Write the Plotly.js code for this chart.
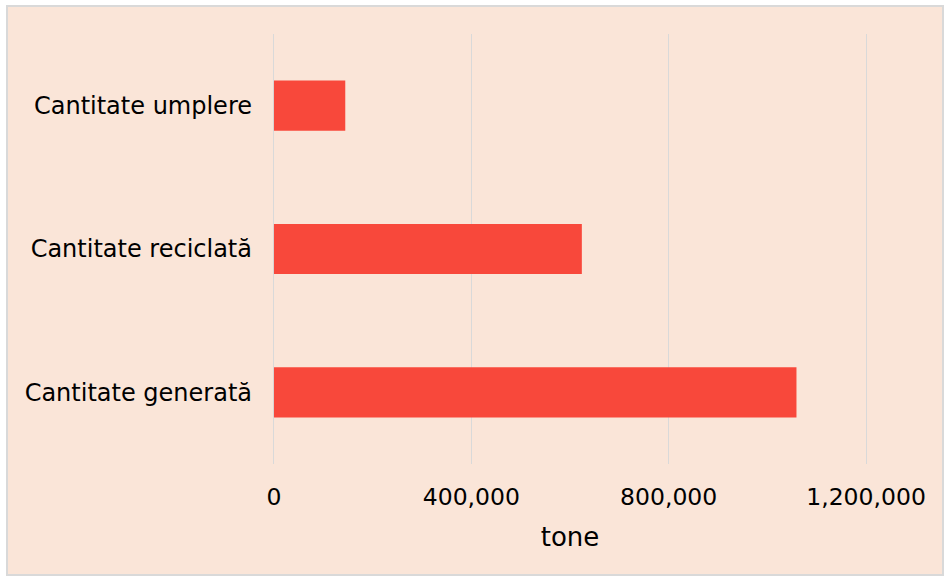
<!DOCTYPE html>
<html>
<head>
<meta charset="utf-8">
<script src="https://cdn.plot.ly/plotly-3.0.1.min.js"></script>
<style>html,body{margin:0;padding:0;background:#fff;}#chart{width:947px;height:578px;}</style>
</head>
<body>
<div id="chart"></div>
<script>
const categories = ["Cantitate generată", "Cantitate reciclată", "Cantitate umplere"];
const values = [1059000, 624000, 144500];
const xTickVals = [0, 400000, 800000, 1200000];
const xTickText = ["0", "400,000", "800,000", "1,200,000"];
const xTitle = "tone";

const W = 947, H = 578;
const m = {l: 271, r: 78, t: 34, b: 114};
const pw = W - m.l - m.r, ph = H - m.t - m.b;
const px = x => (x - m.l) / pw;
const py = y => (H - y - m.b) / ph;

const font = "DejaVu Sans, Verdana, sans-serif";

Plotly.newPlot("chart", [{
  type: "bar",
  orientation: "h",
  y: categories,
  x: values,
  marker: {color: "#F8483B"},
  hoverinfo: "x+y"
}], {
  width: W, height: H,
  margin: m,
  paper_bgcolor: "#ffffff",
  plot_bgcolor: "rgba(0,0,0,0)",
  bargap: 0.65,
  showlegend: false,
  font: {family: font, size: 24, color: "#000000"},
  xaxis: {
    range: [-6000, 1206000],
    tickvals: xTickVals,
    ticktext: xTickText,
    showgrid: true,
    gridcolor: "#D9D9D9",
    gridwidth: 1,
    zeroline: false,
    showline: false,
    ticks: "",
    ticklabelstandoff: 16,
    tickfont: {family: font, size: 23.5, color: "#000"},
    title: {text: xTitle, font: {family: font, size: 26, color: "#000"}, standoff: 18},
    fixedrange: true
  },
  yaxis: {
    showgrid: false,
    zeroline: false,
    showline: false,
    ticks: "",
    ticklabelstandoff: 18,
    tickfont: {family: font, size: 24, color: "#000"},
    fixedrange: true
  },
  shapes: [{
    type: "rect", layer: "below",
    xref: "paper", yref: "paper",
    x0: px(7), x1: px(943), y0: py(575), y1: py(6),
    fillcolor: "#FAE5D8",
    line: {color: "#D9D9D9", width: 2}
  }]
}, {displayModeBar: false, staticPlot: true});
</script>
</body>
</html>
